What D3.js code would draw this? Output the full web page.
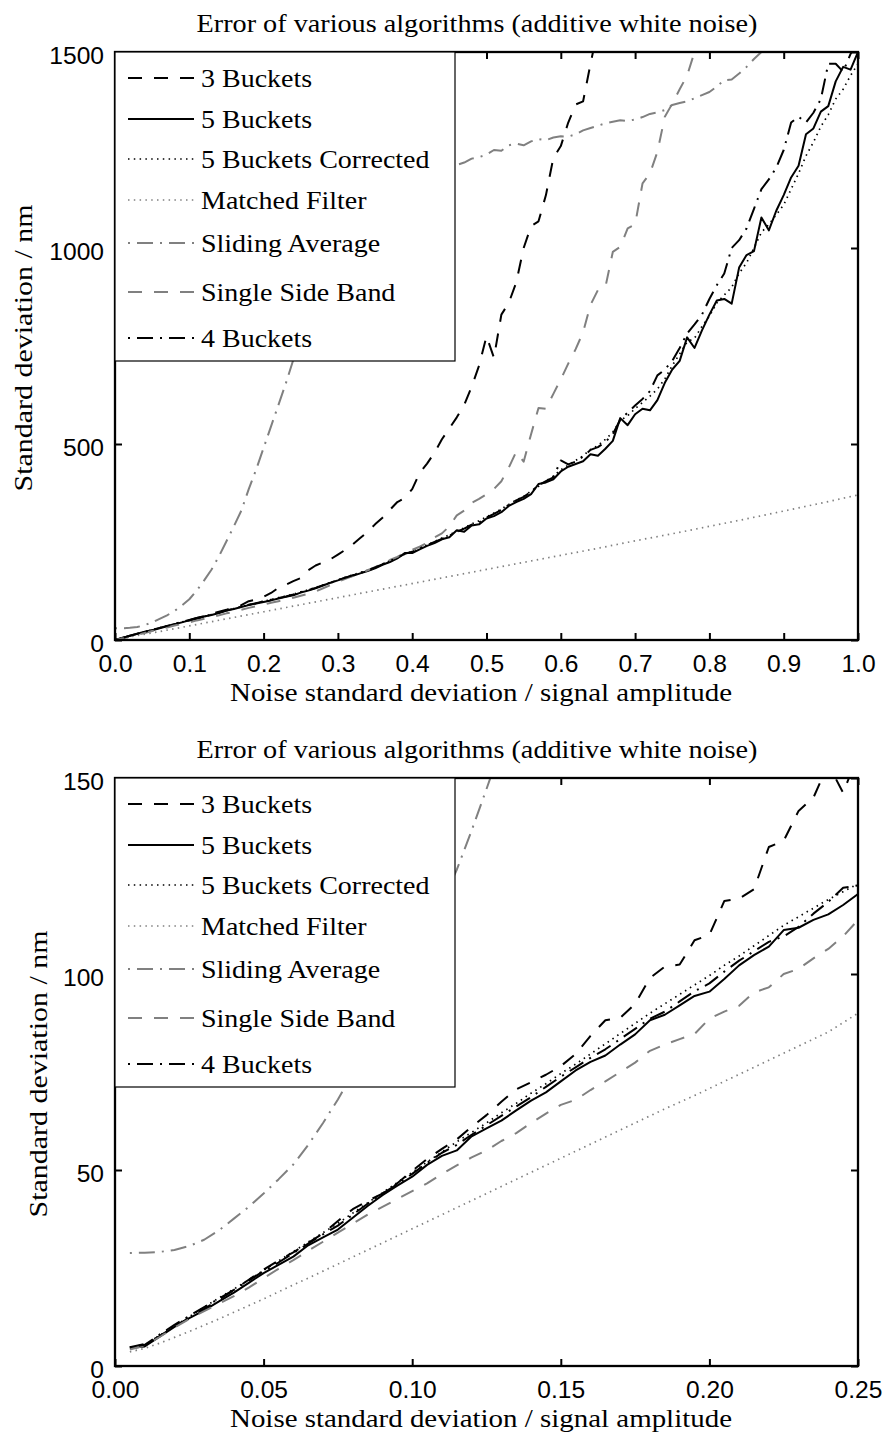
<!DOCTYPE html>
<html>
<head>
<meta charset="utf-8">
<script src="https://cdn.jsdelivr.net/npm/d3@7"></script>
<style>
  body { margin: 0; background: #fff; }
  svg { display: block; }
</style>
</head>
<body>
<svg id="fig" width="883" height="1434"></svg>
<script>
// ---------------- data ----------------
const seriesNames = ["3 Buckets", "5 Buckets", "5 Buckets Corrected", "Matched Filter",
                     "Sliding Average", "Single Side Band", "4 Buckets"];

const chartTitle = "Error of various algorithms (additive white noise)";
const xLabel = "Noise standard deviation / signal amplitude";
const yLabel = "Standard deviation / nm";

// Full range: noise 0 … 1.0 sampled every 0.01
const topX = d3.range(0, 101).map(i => i / 100);
const topMFX = d3.range(0, 21).map(i => i / 20);

const top3B = [0,6,10,15,20,25,29,34,40,44,
  50,56,61,67,72,77,85,89,99,103,
  110,120,133,141,150,158,178,190,198,206,
  218,230,244,260,276,295,312,332,352,362,
  385,426,450,478,512,540,568,600,646,700,
  775,720,830,860,912,1000,1056,1068,1135,1230,
  1260,1320,1366,1374,1470,1560,
  null,null,null,null,null,null,null,null,null,null,
  null,null,null,null,null,null,null,null,null,null,
  null,null,null,null,null,null,null,null,null,null,
  null,null,null,null,null];

const top5B = [0,5,11,16,21,25,30,35,40,45,
  50,54,60,64,69,75,79,84,89,93,
  97,101,106,110,114,121,126,132,139,146,
  152,159,164,170,176,183,192,199,208,222,
  222,231,240,247,257,262,280,276,292,295,
  310,316,326,342,352,360,372,398,402,410,
  430,442,449,456,474,470,488,508,566,548,
  576,590,586,612,656,690,712,772,745,790,
  830,866,870,858,950,982,992,1078,1045,1095,
  1135,1180,1210,1290,1305,1348,1362,1425,1462,1455,
  1500];

const top5BC = [0,5,10,16,21,26,31,36,41,46,
  50,55,60,65,70,75,80,85,90,94,
  99,103,108,112,117,123,128,134,140,147,
  153,160,166,172,178,186,194,202,211,219,
  226,235,243,251,260,268,278,286,296,304,
  314,324,334,346,357,366,380,392,406,418,
  434,446,458,470,486,496,512,530,560,572,
  590,606,622,640,666,700,730,760,770,800,
  826,860,880,900,935,962,1000,1040,1060,1085,
  1110,1150,1190,1235,1270,1310,1340,1380,1405,1440,
  1470];

const topMF = [1,18,36,54,72,90,108,126,144,162,180,198,216,234,253,271,290,309,329,349,370];

const topSA = [30,30,31,33,38,45,54,63,74,88,
  104,126,152,180,214,252,290,330,385,435,
  490,545,600,655,715,775,830,880,925,965,
  1000,1030,1055,1078,1098,1115,1130,1142,1153,1162,
  1170,1178,1185,1192,1199,1206,1212,1218,1228,1232,
  1238,1250,1248,1262,1266,1262,1272,1278,1275,1282,
  1285,1284,1290,1300,1306,1312,1318,1322,1326,1324,
  1328,1334,1342,1346,1352,1365,1370,1374,1382,1390,
  1398,1412,1428,1430,1445,1462,1482,1500,1520,
  null,null,null,null,null,null,null,null,null,null,null,null];

const topSSB = [0,4,9,13,18,23,27,32,37,41,
  45,50,54,59,63,68,72,77,82,86,
  90,95,99,103,108,113,118,124,132,140,
  148,156,163,170,178,186,195,204,212,222,
  230,238,248,262,272,290,318,330,350,360,
  372,385,405,440,480,455,525,592,590,628,
  665,705,742,785,855,893,900,990,1003,1050,
  1060,1165,1190,1245,1335,1368,1405,1440,1500,1560,
  null,null,null,null,null,null,null,null,null,null,
  null,null,null,null,null,null,null,null,null,null,null];

const top4B = [0,5,11,16,21,26,31,36,41,46,
  51,56,60,65,70,75,80,85,90,94,
  99,103,107,111,116,122,127,133,140,146,
  153,159,165,171,177,185,193,201,210,220,
  225,234,242,250,258,266,276,284,294,300,
  312,322,332,345,356,365,378,395,405,415,
  458,448,455,468,485,492,505,525,562,580,
  598,615,635,675,690,712,745,782,805,830,
  870,905,935,1000,1020,1050,1100,1150,1175,1205,
  1250,1320,1335,1320,1345,1380,1470,1470,1450,1495,
  1530];

// Low-noise detail: 0.005 … 0.25 sampled every 0.005
const botX = d3.range(1, 51).map(i => i / 200);

const bot3B = [4.8,5.6,7.6,10.1,12.3,14.6,16.9,19.4,22.0,24.6,
  26.9,29.0,31.4,33.8,37.0,40.0,42.1,44.0,46.6,49.8,
  52.8,55.4,57.8,61.0,64.0,67.4,70.6,72.4,74.3,76.5,
  79.6,84.2,88.2,88.8,92.4,99.0,101.9,102.4,108.6,110.0,
  118.6,119.2,121.6,132.4,134.0,141.6,145.0,153.5,146.2,156.0];

const bot5B = [4.6,5.0,7.5,10.0,12.2,14.2,16.5,18.7,21.2,23.7,
  25.8,27.9,30.8,32.8,34.8,37.8,40.8,43.6,46.0,48.3,
  51.3,53.6,55.0,58.6,60.6,62.6,65.2,67.7,69.8,72.6,
  75.4,77.6,79.2,82.0,84.6,88.2,89.6,92.0,94.4,95.5,
  98.7,102.2,104.8,107.0,111.2,111.8,113.8,115.2,117.6,120.4];

const bot5BC = [4.8,5.3,7.8,10.2,12.6,15.0,17.4,19.6,22.0,24.4,
  26.8,29.2,31.6,34.0,36.4,39.0,41.6,44.2,46.8,49.4,
  52.0,54.6,57.2,59.6,62.0,64.6,67.0,69.6,72.0,74.6,
  77.0,79.6,82.2,84.8,87.4,90.0,92.4,94.8,97.2,99.6,
  102.2,104.6,107.2,109.8,112.4,114.6,116.8,119.0,121.0,123.0];

const botMF = [3.6,4.5,5.8,7.3,8.8,10.4,12.0,13.7,15.4,17.1,
  18.9,20.7,22.4,24.2,26.0,27.8,29.6,31.4,33.2,35.0,
  36.8,38.6,40.4,42.2,44.0,45.8,47.6,49.4,51.2,53.0,
  54.8,56.6,58.4,60.2,62.0,63.8,65.6,67.3,69.0,70.8,
  72.6,74.4,76.2,78.0,79.8,81.6,83.4,85.2,87.6,90.0];

const botSA = [28.8,28.9,29.1,29.6,30.6,32.2,34.6,37.6,40.6,44.0,
  47.6,51.4,56.4,62.0,68.0,74.6,80.8,87.8,95.2,102.8,
  110.6,118.4,126.6,136.6,147.2,158.0,
  null,null,null,null,null,null,null,null,null,null,null,null,
  null,null,null,null,null,null,null,null,null,null,null,null];

const botSSB = [4.2,5.2,7.4,9.8,12.0,14.0,15.9,17.8,20.0,22.4,
  24.8,27.0,29.4,31.7,34.0,36.3,38.6,40.6,42.6,44.6,
  46.6,49.0,51.2,53.2,55.0,57.4,59.4,62.0,64.4,66.6,
  67.9,70.4,72.6,75.0,77.4,80.4,82.0,83.4,84.7,88.6,
  90.4,91.9,95.3,96.6,100.0,101.3,104.0,106.4,109.6,113.8];

const bot4B = [4.8,5.4,8.0,10.5,12.8,15.0,17.2,19.4,21.8,24.2,
  26.4,28.8,31.2,33.6,35.8,38.6,41.4,44.0,46.4,49.0,
  51.8,54.4,56.4,59.0,61.4,63.8,66.2,68.6,71.2,73.8,
  76.2,78.6,80.8,83.4,86.0,88.6,90.4,93.0,95.6,97.6,
  100.6,103.4,105.8,108.2,109.6,112.0,115.4,118.4,122.0,122.6];

const topXTicks = [0, 0.1, 0.2, 0.3, 0.4, 0.5, 0.6, 0.7, 0.8, 0.9, 1.0];
const topYTicks = [0, 500, 1000, 1500];
const botXTicks = [0, 0.05, 0.10, 0.15, 0.20, 0.25];
const botYTicks = [0, 50, 100, 150];

// ---------------- styling ----------------
const GRAY = "#808080";
const styles = [
  { color: "#000", width: 2.0, dash: "14,12" },        // 3 Buckets
  { color: "#000", width: 2.0, dash: null },           // 5 Buckets
  { color: "#000", width: 1.7, dash: "1.5,4.3" },      // 5 Buckets Corrected
  { color: GRAY,  width: 1.7, dash: "1.5,4.3" },       // Matched Filter
  { color: GRAY,  width: 2.0, dash: "2,7,16,7" },      // Sliding Average
  { color: GRAY,  width: 2.0, dash: "14,12" },         // Single Side Band
  { color: "#000", width: 2.0, dash: "2,7,16,7" }      // 4 Buckets
];

const SERIF = "'Liberation Serif', 'Times New Roman', serif";
const SANS = "'Liberation Sans', Arial, sans-serif";
const SERIF_SIZE = 25.8;
const SANS_SIZE = 24.6;
const STRETCH = 1.085;   // widen the Times-like face toward Computer Modern proportions

const L = 115, R = 858, PH = 588;

const svg = d3.select("#fig");
svg.append("rect").attr("width", 883).attr("height", 1434).attr("fill", "#fff");

// serif label; width either given explicitly or widened by STRETCH
function serifText(sel, width) {
  sel.attr("font-family", SERIF).attr("font-size", SERIF_SIZE).attr("fill", "#000");
  sel.each(function () {
    const len = width || this.getComputedTextLength() * STRETCH;
    d3.select(this).attr("textLength", len).attr("lengthAdjust", "spacingAndGlyphs");
  });
  return sel;
}

function drawPanel(cfg) {
  const top = cfg.top;
  const g = svg.append("g");
  const x = d3.scaleLinear().domain(cfg.xDomain).range([L, R]);
  const y = d3.scaleLinear().domain(cfg.yDomain).range([top + PH, top]);

  const clipId = "plotclip" + cfg.id;
  svg.append("clipPath").attr("id", clipId)
    .append("rect").attr("x", L).attr("y", top).attr("width", R - L).attr("height", PH);

  // data lines
  const lineGen = d3.line().x(p => x(p[0])).y(p => y(p[1]));
  const lines = g.append("g").attr("clip-path", `url(#${clipId})`);
  cfg.series.forEach((s, i) => {
    const pts = s.xs.map((xv, j) => [xv, s.ys[j]]).filter(p => p[1] != null);
    const st = styles[i];
    const path = lines.append("path")
      .attr("d", lineGen(pts))
      .attr("fill", "none")
      .attr("stroke", st.color)
      .attr("stroke-width", st.width)
      .attr("stroke-linejoin", "round");
    if (st.dash) path.attr("stroke-dasharray", st.dash);
  });

  // axes: ticks inside on all four sides
  const TICK = 7;
  const bottom = g.append("g").attr("transform", `translate(0,${top + PH})`)
    .call(d3.axisBottom(x).tickValues(cfg.xTicks).tickFormat(cfg.xFmt)
      .tickSizeInner(-TICK).tickSizeOuter(0).tickPadding(14.5));
  const left = g.append("g").attr("transform", `translate(${L},0)`)
    .call(d3.axisLeft(y).tickValues(cfg.yTicks).tickFormat(d3.format("d"))
      .tickSizeInner(-TICK).tickSizeOuter(0).tickPadding(11));
  const topAx = g.append("g").attr("transform", `translate(0,${top})`)
    .call(d3.axisTop(x).tickValues(cfg.xTicks).tickFormat("")
      .tickSizeInner(-TICK).tickSizeOuter(0));
  const rightAx = g.append("g").attr("transform", `translate(${R},0)`)
    .call(d3.axisRight(y).tickValues(cfg.yTicks).tickFormat("")
      .tickSizeInner(-TICK).tickSizeOuter(0));

  [bottom, left, topAx, rightAx].forEach(a => {
    a.select(".domain").remove();
    a.selectAll(".tick line").attr("stroke", "#000").attr("stroke-width", 2);
    a.selectAll("text").attr("font-family", SANS).attr("font-size", SANS_SIZE).attr("fill", "#000");
  });
  left.selectAll("text").attr("dy", "0.45em");

  // axes box
  g.append("rect").attr("x", L).attr("y", top).attr("width", R - L).attr("height", PH)
    .attr("fill", "none").attr("stroke", "#000").attr("stroke-width", 2.3);

  // title and axis labels
  g.append("text").attr("x", 477).attr("y", top - 20.5).attr("text-anchor", "middle")
    .text(chartTitle).call(serifText, 561);
  g.append("text").attr("x", 481).attr("y", top + PH + 61).attr("text-anchor", "middle")
    .text(xLabel).call(serifText, 502);
  g.append("text").attr("text-anchor", "middle")
    .attr("transform", `translate(${cfg.yLabelX},${top + PH / 2 + 2}) rotate(-90)`)
    .text(yLabel).call(serifText, 287);

  // legend
  const leg = g.append("g");
  leg.append("rect").attr("x", L).attr("y", top).attr("width", 340).attr("height", 309)
    .attr("fill", "#fff").attr("stroke", "#000").attr("stroke-width", 1.2);
  const rows = [26, 67, 107, 148, 191, 240, 286];
  seriesNames.forEach((name, i) => {
    const cy = top + rows[i];
    const st = styles[i];
    const ln = leg.append("line").attr("x1", 128).attr("x2", 194).attr("y1", cy).attr("y2", cy)
      .attr("stroke", st.color).attr("stroke-width", st.width);
    if (st.dash) ln.attr("stroke-dasharray", st.dash);
    leg.append("text").attr("x", 201).attr("y", cy + 8.5).text(name).call(serifText);
  });
}

drawPanel({
  id: "full", top: 52,
  xDomain: [0, 1], yDomain: [0, 1500],
  xTicks: topXTicks, xFmt: d3.format(".1f"),
  yTicks: topYTicks, yLabelX: 31.5,
  series: [
    { xs: topX, ys: top3B },
    { xs: topX, ys: top5B },
    { xs: topX, ys: top5BC },
    { xs: topMFX, ys: topMF },
    { xs: topX, ys: topSA },
    { xs: topX, ys: topSSB },
    { xs: topX, ys: top4B }
  ]
});

drawPanel({
  id: "low", top: 778,
  xDomain: [0, 0.25], yDomain: [0, 150],
  xTicks: botXTicks, xFmt: d3.format(".2f"),
  yTicks: botYTicks, yLabelX: 46.5,
  series: [
    { xs: botX, ys: bot3B },
    { xs: botX, ys: bot5B },
    { xs: botX, ys: bot5BC },
    { xs: botX, ys: botMF },
    { xs: botX, ys: botSA },
    { xs: botX, ys: botSSB },
    { xs: botX, ys: bot4B }
  ]
});
</script>
</body>
</html>
